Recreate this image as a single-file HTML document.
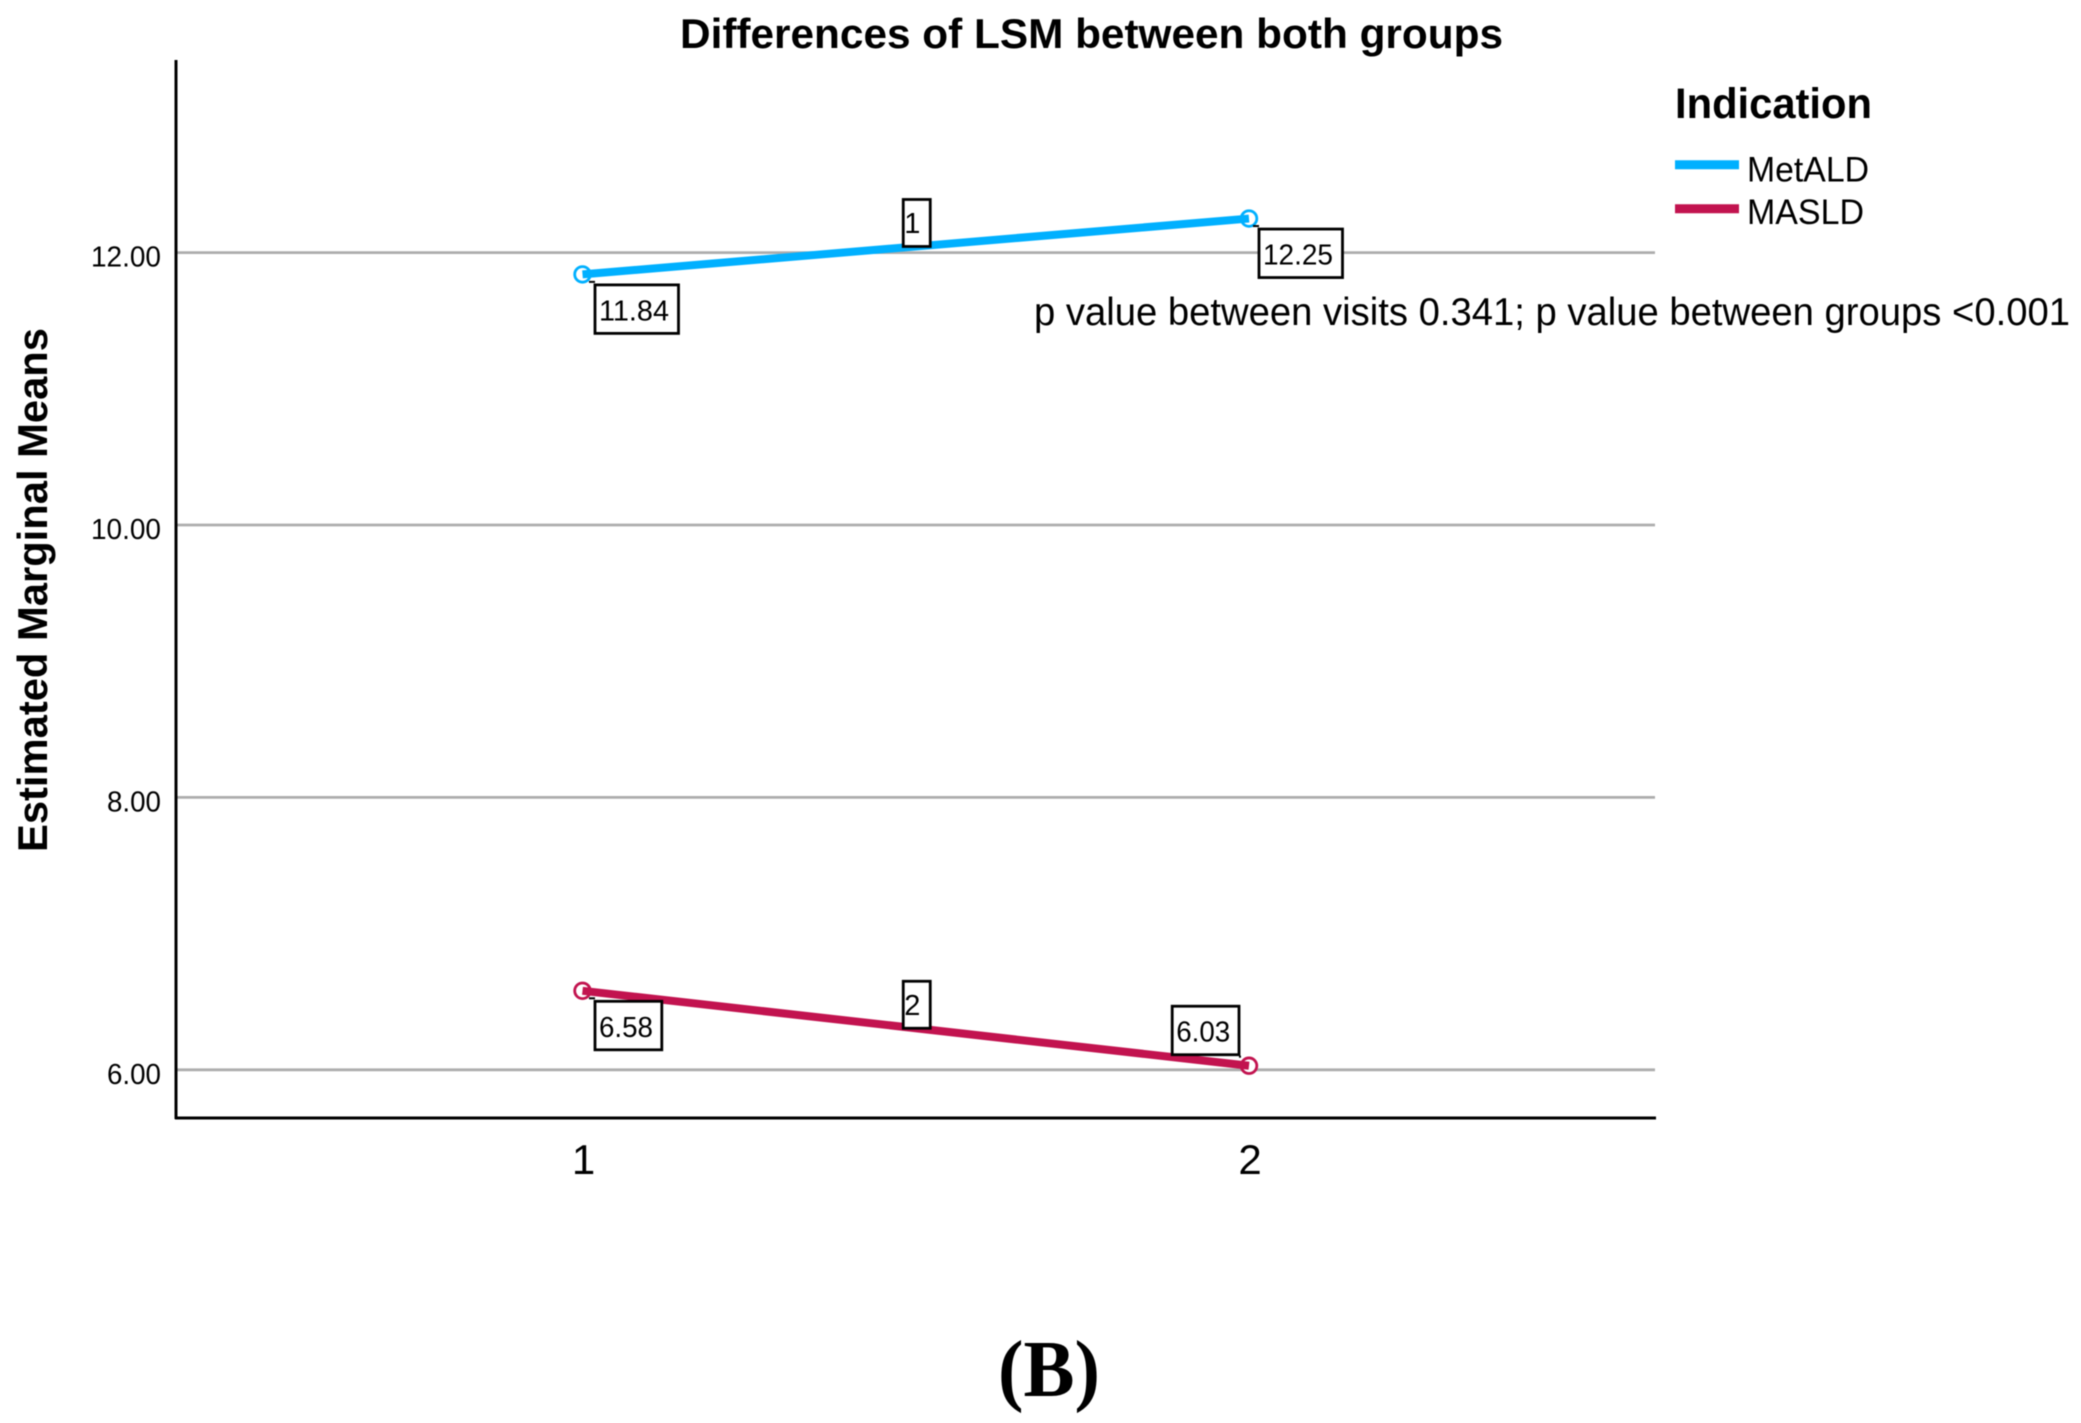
<!DOCTYPE html>
<html lang="en">
<head>
<meta charset="utf-8">
<title>Differences of LSM between both groups</title>
<style>
  html, body { margin: 0; padding: 0; background: #ffffff; }
  svg { display: block; filter: blur(0.5px); }
  text { font-family: "Liberation Sans", sans-serif; fill: #000; }
</style>
</head>
<body>
<svg id="chart" xmlns="http://www.w3.org/2000/svg" width="2081" height="1423" viewBox="0 0 2081 1423">
  <rect x="0" y="0" width="2081" height="1423" fill="#ffffff"/>
  <g id="grid"></g>
  <line x1="176" y1="60" x2="176" y2="1119" stroke="#000" stroke-width="3"/>
  <line x1="175" y1="1118" x2="1656" y2="1118" stroke="#000" stroke-width="3"/>
  <g id="yTicks"></g>
  <g id="xTicks"></g>
  <g id="series"></g>
  <g id="callouts"></g>

  <text x="680" y="48" font-size="42" font-weight="700" textLength="823" lengthAdjust="spacingAndGlyphs">Differences of LSM between both groups</text>
  <text transform="translate(47 852) rotate(-90)" x="0" y="0" font-size="42" font-weight="700" textLength="524" lengthAdjust="spacingAndGlyphs">Estimated Marginal Means</text>

  <text x="1675" y="118" font-size="43" font-weight="700" textLength="197" lengthAdjust="spacingAndGlyphs">Indication</text>
  <g>
    <line x1="1675" y1="164.7" x2="1739" y2="164.7" stroke="#00b0ff" stroke-width="9"/>
    <text x="1747" y="181.5" font-size="35" textLength="122" lengthAdjust="spacingAndGlyphs">MetALD</text>
  </g>
  <g>
    <line x1="1675" y1="208.7" x2="1739" y2="208.7" stroke="#c2134f" stroke-width="9"/>
    <text x="1747" y="224" font-size="35" textLength="117" lengthAdjust="spacingAndGlyphs">MASLD</text>
  </g>

  <text x="1034" y="325" font-size="39" textLength="1036" lengthAdjust="spacingAndGlyphs">p value between visits 0.341; p value between groups &lt;0.001</text>
  <text x="998" y="1396" font-size="80" font-weight="700" textLength="102" lengthAdjust="spacingAndGlyphs" style="font-family:'Liberation Serif',serif">(B)</text>
</svg>

<script>
const visits = [1, 2];
const metaldValues = [11.84, 12.25];
const masldValues = [6.58, 6.03];
const metaldLabels = ["11.84", "12.25"];
const masldLabels = ["6.58", "6.03"];
const yTickValues = [12, 10, 8, 6];
const yTickLabels = ["12.00", "10.00", "8.00", "6.00"];
const xTickLabels = ["1", "2"];

const NS = "http://www.w3.org/2000/svg";

function xScale(v) { return 582.5 + (v - 1) * 666.5; }
function yScale(v) { return 1069.8 - (v - 6) * 136.2; }

function mk(tag, parent, attrs) {
  const el = document.createElementNS(NS, tag);
  for (const k in attrs) el.setAttribute(k, attrs[k]);
  parent.appendChild(el);
  return el;
}

function digitsLength(text) { return 16 * text.length - 10; }

const gridG = document.getElementById("grid");
const yTicksG = document.getElementById("yTicks");
const xTicksG = document.getElementById("xTicks");
const seriesG = document.getElementById("series");
const calloutsG = document.getElementById("callouts");

yTickValues.forEach(function (v, i) {
  const y = yScale(v);
  const line = mk("line", gridG, { x1: 177, y1: y, x2: 1655, y2: y, stroke: "#adadad", "stroke-width": 2.8 });
  
  
  const label = mk("text", yTicksG, { x: 161, y: y + 14, "font-size": 29, "text-anchor": "end", fill: "#111", textLength: digitsLength(yTickLabels[i]), lengthAdjust: "spacingAndGlyphs" });
  label.textContent = yTickLabels[i];
  
  
});

visits.forEach(function (v, i) {
  const label = mk("text", xTicksG, { x: xScale(v) + 1, y: 1174, "font-size": 42, "text-anchor": "middle", fill: "#333" });
  label.textContent = xTickLabels[i];
  
  
});

function drawMarker(parent, v, value, color) {
  const marker = mk("circle", parent, { cx: xScale(v), cy: yScale(value), r: 7.8, fill: "#fff", stroke: color, "stroke-width": 2.8 });
  
  
}

function drawSeries(values, color) {
  const g = mk("g", seriesG, {});
  
  
  visits.forEach(function (v, i) { drawMarker(g, v, values[i], color); });
  const pts = visits.map(function (v, i) { return xScale(v) + "," + yScale(values[i]); }).join(" ");
  const line = mk("polyline", g, { points: pts, fill: "none", stroke: color, "stroke-width": 8 });
  
  
}

drawSeries(metaldValues, "#00b0ff");
drawSeries(masldValues, "#c2134f");

function drawBox(x, y, w, h, text, tx, ty, len, name) {
  const rect = mk("rect", calloutsG, { x: x, y: y, width: w, height: h, fill: "#fff", stroke: "#000", "stroke-width": 2.8 });
  
  
  const label = mk("text", calloutsG, { x: x + tx, y: y + ty, "font-size": 29 });
  if (len) {
    label.setAttribute("textLength", len);
    label.setAttribute("lengthAdjust", "spacingAndGlyphs");
  }
  label.textContent = text;
  
  
}

function valueBox(v, value, text, above, dx) {
  const w = text.length * 16.7;
  const h = 48.5;
  const px = xScale(v);
  const py = yScale(value);
  const x = above ? px - 10 - w : px + dx;
  const y = above ? py - 11 - h : py + 10.5;
  const leader = above
    ? mk("line", calloutsG, { x1: x + w, y1: y + h + 2, x2: x + w + 2, y2: y + h + 2, stroke: "#000", "stroke-width": 2 })
    : mk("line", calloutsG, { x1: x - 6, y1: y - 3, x2: x, y2: y - 3, stroke: "#000", "stroke-width": 2 });
  
  
  drawBox(x, y, w, h, text, 4, 35.5, digitsLength(text), 'value-callout');
}

function seriesBox(values, text) {
  const midX = (xScale(visits[0]) + xScale(visits[1])) / 2;
  const midY = (yScale(values[0]) + yScale(values[1])) / 2;
  drawBox(midX - 12.5, midY - 47, 27, 47, text, 1, 33.5, 0, 'series-number');
}

valueBox(visits[0], metaldValues[0], metaldLabels[0], false, 12.5);
valueBox(visits[1], metaldValues[1], metaldLabels[1], false, 10);
valueBox(visits[0], masldValues[0], masldLabels[0], false, 12.5);
valueBox(visits[1], masldValues[1], masldLabels[1], true, 0);
seriesBox(metaldValues, "1");
seriesBox(masldValues, "2");
</script>
</body>
</html>
